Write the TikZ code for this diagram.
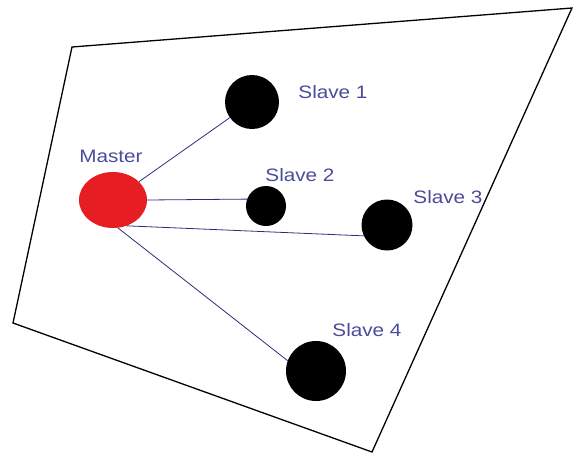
\documentclass[tikz,border=0pt]{standalone}
\usepackage{fontspec}
\setmainfont{Liberation Sans}
\newfontfamily\tagfont[FakeStretch=1.15]{Liberation Sans}
\usetikzlibrary{shapes.geometric}
\definecolor{linkblue}{RGB}{45,45,125}
\definecolor{textblue}{RGB}{75,75,155}
\definecolor{masterred}{RGB}{230,30,36}

\begin{document}
\begin{tikzpicture}[x=1pt, y=-1pt,
  slave/.style={circle, fill=black, inner sep=0pt},
  master/.style={ellipse, fill=masterred, inner sep=0pt, minimum width=68pt, minimum height=56pt},
  tag/.style={text=textblue, font=\tagfont\fontsize{18}{18}\selectfont, inner sep=0pt},
  link/.style={draw=linkblue, line width=0.8pt}]
  \useasboundingbox (0,0) rectangle (573,456);
  % border
  \coordinate (A) at (72,47); \coordinate (B) at (572,8);
  \coordinate (C) at (372,452); \coordinate (D) at (13,323);
  \draw[line width=1.3pt] (A) -- (B) -- (C) -- (D) -- cycle;
  % nodes
  \node[master] (M) at (113,200) {};
  \node[slave, minimum size=54pt] (S1) at (252,102) {};
  \node[slave, minimum size=40pt] (S2) at (266,206) {};
  \node[slave, minimum size=51pt] (S3) at (387,225) {};
  \node[slave, minimum size=60pt] (S4) at (316,371) {};
  % labels
  \node[tag] (LM) at (111,156) {Master};
  \node[tag] (L1) at (333,92) {Slave 1};
  \node[tag] (L2) at (300,175) {Slave 2};
  \node[tag] (L3) at (448,197) {Slave 3};
  \node[tag] (L4) at (367,330) {Slave 4};
  % links
  \draw[link] (M) -- (S1); \draw[link] (M.east) -- (S2.160);
  \draw[link] (M.-62) -- (S3.205); \draw[link] (M.-80) -- (S4.160);
\end{tikzpicture}
\end{document}
